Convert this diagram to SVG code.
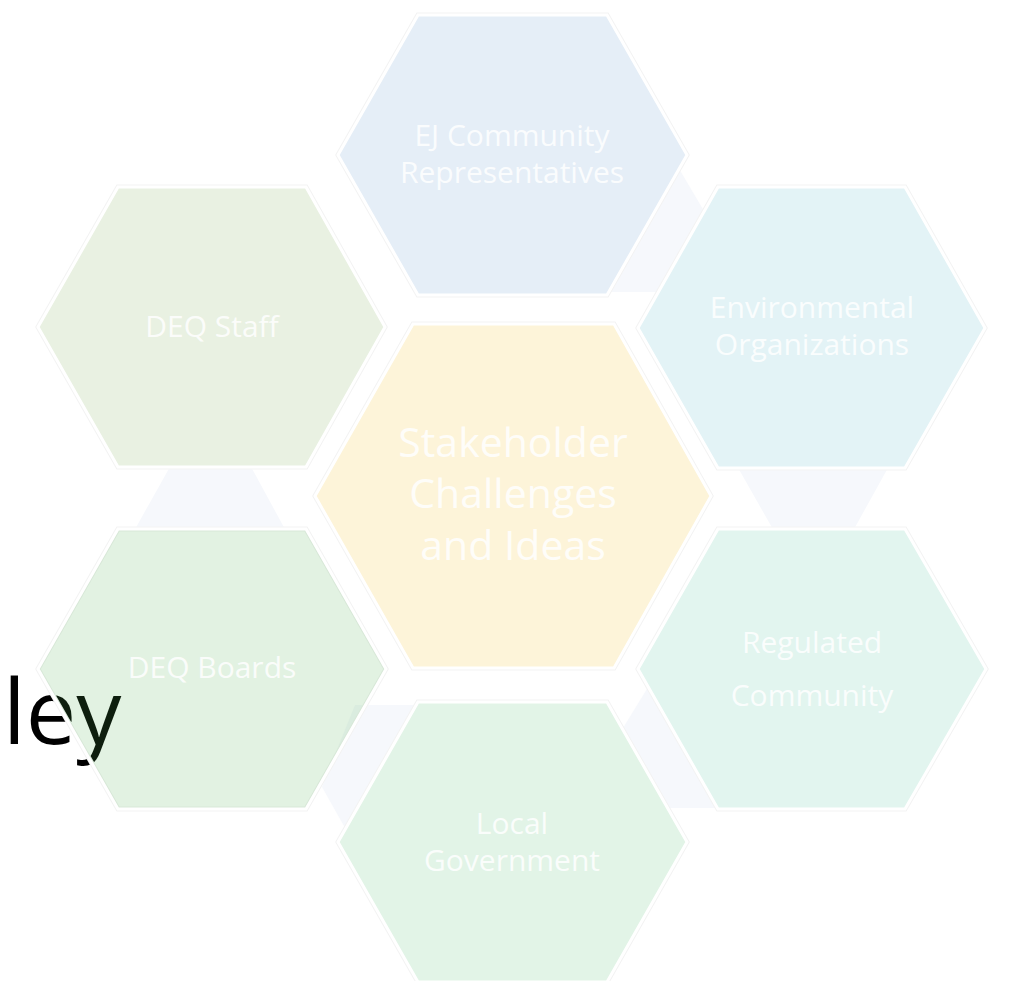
<svg xmlns="http://www.w3.org/2000/svg" width="1011" height="981" viewBox="0 0 1011 981">
<style>
.bg{fill:#ffffff}
.piece{fill:#f6f8fc;stroke:none}
.halo{fill:none;stroke:#f3f3f3;stroke-width:5;stroke-linejoin:miter}
.hex{stroke:#ffffff;stroke-width:3;stroke-linejoin:miter}
.lbl{font-family:"Open Sans","Liberation Sans",sans-serif;font-size:30px;fill:#ffffff;fill-opacity:0.85;text-anchor:middle}
.big{font-size:41px}
.title{font-family:"Open Sans","Liberation Sans",sans-serif;font-size:90px;fill:#000000}
</style>
<rect class="bg" x="0" y="0" width="1011" height="981"/>
<text class="title" x="3" y="744">ley</text>
<g id="connectors">
<polygon class="piece" points="678,167 704,211 657,292 600,292 600,200"/>
<polygon class="piece" points="737,466 889,466 853,531 774,531"/>
<polygon class="piece" points="650,684 623,728 662,808 722,808"/>
<polygon class="piece" points="355,705 425,705 349,835 322,787"/>
<polygon class="piece" points="171,465 250,465 286,531 134,531"/>
</g>
<g id="node-ej">
<polygon class="halo" points="418,15 607,15 687,155 607,295 418,295 338,155"/>
<polygon class="hex" fill="#e5eef7" points="418,15 607,15 687,155 607,295 418,295 338,155"/>
<text class="lbl" x="512" y="146">EJ Community</text>
<text class="lbl" x="512" y="183">Representatives</text>
</g>
<g id="node-env">
<polygon class="halo" points="718,187 905,187 985,328 905,468 718,468 638,328"/>
<polygon class="hex" fill="#e3f3f6" points="718,187 905,187 985,328 905,468 718,468 638,328"/>
<text class="lbl" x="812" y="318">Environmental</text>
<text class="lbl" x="812" y="355">Organizations</text>
</g>
<g id="node-staff">
<polygon class="halo" points="118,187 306,187 385,327 306,467 118,467 38,327"/>
<polygon class="hex" fill="#e9f1e2" points="118,187 306,187 385,327 306,467 118,467 38,327"/>
<text class="lbl" x="212" y="337">DEQ Staff</text>
</g>
<g id="node-center">
<polygon class="halo" points="413,324 614,324 711,496 614,668 413,668 315,496"/>
<polygon class="hex" fill="#fdf4d9" points="413,324 614,324 711,496 614,668 413,668 315,496"/>
<text class="lbl big" x="513" y="457">Stakeholder</text>
<text class="lbl big" x="513" y="508">Challenges</text>
<text class="lbl big" x="513" y="560">and Ideas</text>
</g>
<g id="node-boards">
<polygon class="halo" points="118,529 306,529 386,669 306,809 118,809 38,669"/>
<polygon class="hex" fill="#55b355" fill-opacity="0.17" points="118,529 306,529 386,669 306,809 118,809 38,669"/>
<text class="lbl" x="212" y="678">DEQ Boards</text>
</g>
<g id="node-regulated">
<polygon class="halo" points="718,529 905,529 986,669 905,809 718,809 638,669"/>
<polygon class="hex" fill="#e2f5ef" points="718,529 905,529 986,669 905,809 718,809 638,669"/>
<text class="lbl" x="812" y="653">Regulated</text>
<text class="lbl" x="812" y="706">Community</text>
</g>
<g id="node-local">
<polygon class="halo" points="418,702 607,702 687,842 607,982 418,982 338,842"/>
<polygon class="hex" fill="#e2f4e7" points="418,702 607,702 687,842 607,982 418,982 338,842"/>
<text class="lbl" x="512" y="834">Local</text>
<text class="lbl" x="512" y="871">Government</text>
</g>
</svg>
